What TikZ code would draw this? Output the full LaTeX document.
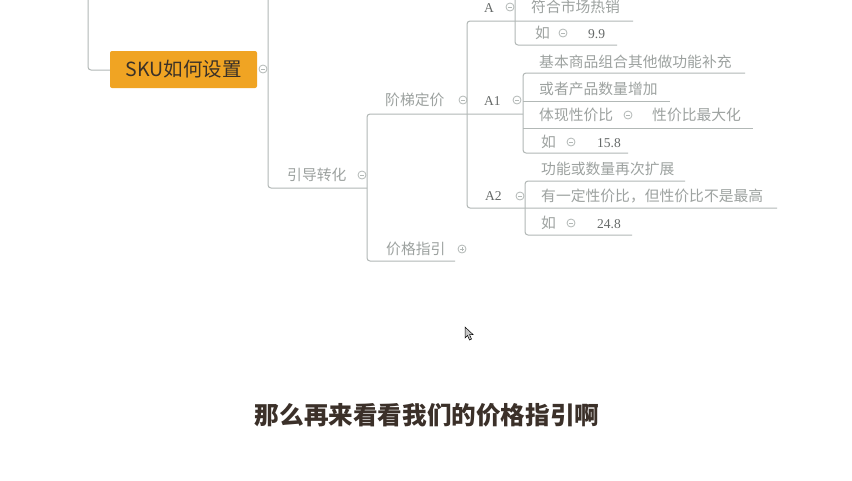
\documentclass[tikz,border=0pt]{standalone}
\usepackage{fontspec}
\newfontfamily\cjk{Noto Sans CJK SC}
\newfontfamily\lat{Liberation Serif}
\definecolor{lnc}{HTML}{B2B8B6}
\definecolor{gtc}{HTML}{9DA2A0}
\definecolor{dtc}{HTML}{666A69}
\definecolor{orng}{HTML}{F0A423}
\definecolor{boxt}{HTML}{3A3128}
\definecolor{capt}{HTML}{3B3029}
\begin{document}
\begin{tikzpicture}[x=1pt,y=-1pt,
  ln/.style={draw=lnc, line width=1pt, rounded corners=3pt},
  gt/.style={font=\cjk\fontsize{14.8}{14.8}\selectfont, text=gtc, inner sep=0pt, anchor=west},
  dt/.style={font=\lat\fontsize{13.5}{13.5}\selectfont, text=dtc, inner sep=0pt, anchor=west},
  col/.style={circle, draw=lnc, line width=0.8pt, minimum size=8pt, inner sep=0pt,
    path picture={\draw[lnc, line width=0.8pt] ([xshift=-2pt]path picture bounding box.center) -- ([xshift=2pt]path picture bounding box.center);}},
  expd/.style={circle, draw=lnc, line width=0.8pt, minimum size=8pt, inner sep=0pt,
    path picture={\draw[lnc, line width=0.8pt] ([xshift=-2pt]path picture bounding box.center) -- ([xshift=2pt]path picture bounding box.center);
      \draw[lnc, line width=0.8pt] ([yshift=-2pt]path picture bounding box.center) -- ([yshift=2pt]path picture bounding box.center);}},
  skubox/.style={fill=orng, rounded corners=2pt, minimum width=147pt, minimum height=37pt, inner sep=0pt,
    text=boxt, font=\cjk\fontsize{19.5}{19.5}\selectfont},
  ]
\useasboundingbox (0,0) rectangle (852,480);
\fill[white] (0,0) rectangle (852,480);

% connectors
\coordinate (l0t) at (88,0);
\coordinate (l0c) at (88,70);
\node[skubox] (sku) at (183.5,69.5) {SKU如何设置};
\draw[ln] (l0t) -- (l0c) -- (sku.west |- l0c);
\node[col] (c0) at (263,69) {};

\coordinate (l1t) at (268,0);
\coordinate (l1b) at (268,188);
\coordinate (l1e) at (367,188);
\draw[ln] (l1t) -- (l1b) -- (l1e);
\node[gt] (ydzh) at (287,175) {引导转化};
\node[col] (c1) at (362,175) {};

\coordinate (l2a) at (523,114);
\coordinate (l2t) at (367,114);
\coordinate (l2b) at (367,261);
\coordinate (l2e) at (455,261);
\draw[ln] (l2a) -- (l2t) -- (l2b) -- (l2e);
\node[gt] (jtdj) at (385,100) {阶梯定价};
\node[col] (c2) at (463,100) {};
\node[gt] (jgzy) at (386,249) {价格指引};
\node[expd] (c3) at (462,249) {};

\coordinate (l3a) at (633,21);
\coordinate (l3t) at (467,21);
\coordinate (l3b) at (467,208);
\coordinate (l3e) at (777,208);
\draw[ln] (l3a) -- (l3t) -- (l3b) -- (l3e);

% A
\node[dt] (na) at (484,8) {A};
\node[col] (ca) at (510,7) {};
\coordinate (l4t) at (515,0);
\coordinate (l4b) at (515,45);
\coordinate (l4e) at (617,45);
\draw[ln] (l4t) -- (l4b) -- (l4e);
\node[gt] (fhsc) at (531,7) {符合市场热销};
\node[gt] (ru1) at (535,33) {如};
\node[col] (cr1) at (563,33) {};
\node[dt] (p1) at (588,34) {9.9};

% A1
\node[dt] (na1) at (484,101) {A1};
\node[col] (ca1) at (517,100) {};
\coordinate (l5a) at (745,73);
\coordinate (l5t) at (523,73);
\coordinate (l5b) at (523,153);
\coordinate (l5e) at (628,153);
\draw[ln] (l5a) -- (l5t) -- (l5b) -- (l5e);
\coordinate (l6a) at (523,101);
\coordinate (l6b) at (670,101);
\draw[ln] (l6a) -- (l6b);
\coordinate (l7a) at (523,128);
\coordinate (l7b) at (753,128);
\draw[ln] (l7a) -- (l7b);
\node[gt] (jbsp) at (539,62) {基本商品组合其他做功能补充};
\node[gt] (hzcp) at (539,89) {或者产品数量增加};
\node[gt] (txxj) at (539,115) {体现性价比};
\node[col] (cx) at (628,115) {};
\node[gt] (xjbz) at (652,115) {性价比最大化};
\node[gt] (ru2) at (541,142) {如};
\node[col] (cr2) at (571,142) {};
\node[dt] (p2) at (597,143) {15.8};

% A2
\node[dt] (na2) at (485,196) {A2};
\node[col] (ca2) at (520,196) {};
\coordinate (l8a) at (685,181);
\coordinate (l8t) at (525,181);
\coordinate (l8b) at (525,235);
\coordinate (l8e) at (632,235);
\draw[ln] (l8a) -- (l8t) -- (l8b) -- (l8e);
\node[gt] (gnhs) at (541,169) {功能或数量再次扩展};
\node[gt] (yydx) at (541,196) {有一定性价比，但性价比不是最高};
\node[gt] (ru3) at (541,223) {如};
\node[col] (cr3) at (571,223) {};
\node[dt] (p3) at (597,224) {24.8};

% cursor
\draw[black, fill=gray!45, line width=0.5pt] (465,327) -- (465,338) -- (467.5,335.5) -- (469.5,340) -- (471.5,339) -- (469.5,334.5) -- (473,334.5) -- cycle;

% caption
\node[font=\cjk\bfseries\fontsize{24.6}{24.6}\selectfont, text=capt, inner sep=0pt] (cap) at (427,415) {那么再来看看我们的价格指引啊};
\end{tikzpicture}
\end{document}
